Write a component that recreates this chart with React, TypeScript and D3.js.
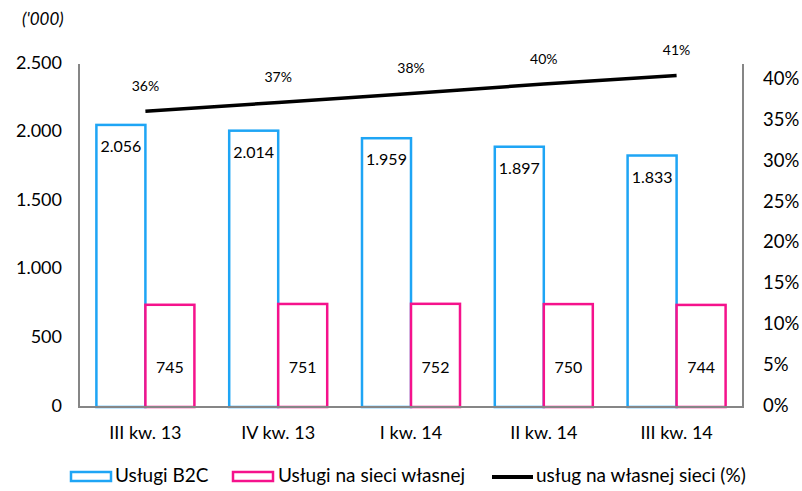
import React from "react";
import * as d3 from "d3";

// Quarterly subscriber figures ('000) and share of on-net services
const categories = ["III kw. 13", "IV kw. 13", "I kw. 14", "II kw. 14", "III kw. 14"];
const b2cValues = [2056, 2014, 1959, 1897, 1833];
const ownNetValues = [745, 751, 752, 750, 744];
const ownNetShare = [0.362, 0.373, 0.384, 0.3954, 0.406];
const leftTicks = [0, 500, 1000, 1500, 2000, 2500];
const rightTicks = [0, 0.05, 0.1, 0.15, 0.2, 0.25, 0.3, 0.35, 0.4];
const seriesNames = ["Usługi B2C", "Usługi na sieci własnej", "usług na własnej sieci (%)"];

const W = 802;
const H = 491;
const M = { left: 79, right: 743, top: 64, bottom: 407 };
const FONT = "Lato, 'Open Sans', sans-serif";
const BLUE = "#1ea5f5";
const PINK = "#f5128c";
const AXIS = "#868686";

const fmtThousands = (v: number) => d3.format(",")(v).replace(/,/g, ".");
const fmtPct = (v: number) => `${Math.round(v * 100)}%`;

export default function App() {
  const x = d3.scaleBand<string>().domain(categories).range([M.left, M.right]);
  const xs = d3
    .scaleBand<string>()
    .domain(["b2c", "own"])
    .range([0, x.bandwidth()])
    .paddingInner(0)
    .paddingOuter(0.355);
  const yL = d3.scaleLinear().domain([0, 2500]).range([M.bottom, M.top]);
  const yR = d3.scaleLinear().domain([0, 0.42]).range([M.bottom, M.top]);

  const line = d3
    .line<number>()
    .x((_, i) => (x(categories[i]) as number) + x.bandwidth() / 2)
    .y((d) => yR(d));

  const bw = xs.bandwidth();

  return (
    <svg width={W} height={H} style={{ display: "block", position: "absolute", left: 0, top: 0 }} fontFamily={FONT}>
      <rect width={W} height={H} fill="#fff" />
      <text x={22} y={25} fontSize={17} fontStyle="italic" fill="#000">
        ('000)
      </text>

      {/* bars */}
      {categories.map((c, i) => {
        const x0 = x(c) as number;
        const bx = x0 + (xs("b2c") as number);
        const px = x0 + (xs("own") as number);
        return (
          <g key={c}>
            <rect
              x={bx}
              y={yL(b2cValues[i])}
              width={bw}
              height={yL(0) - yL(b2cValues[i])}
              fill="#fff"
              stroke={BLUE}
              strokeWidth={2.5}
            />
            <rect
              x={px}
              y={yL(ownNetValues[i])}
              width={bw}
              height={yL(0) - yL(ownNetValues[i])}
              fill="#fff"
              stroke={PINK}
              strokeWidth={2.5}
            />
            <text
              x={bx + bw / 2}
              y={yL(b2cValues[i]) + 23}
              textAnchor="middle"
              dominantBaseline="middle"
              fontSize={16}
              fill="#000"
            >
              {fmtThousands(b2cValues[i])}
            </text>
            <text
              x={px + bw / 2}
              y={yL(0) - 38}
              textAnchor="middle"
              dominantBaseline="middle"
              fontSize={16}
              fill="#000"
            >
              {fmtThousands(ownNetValues[i])}
            </text>
          </g>
        );
      })}

      {/* axes */}
      <line x1={M.left} x2={M.left} y1={M.top} y2={M.bottom} stroke={AXIS} strokeWidth={2} />
      <line x1={M.right} x2={M.right} y1={M.top} y2={M.bottom} stroke={AXIS} strokeWidth={2} />
      <line x1={M.left - 1} x2={M.right + 1} y1={M.bottom} y2={M.bottom} stroke={AXIS} strokeWidth={2} />

      {leftTicks.map((t) => (
        <text
          key={t}
          x={62}
          y={yL(t)}
          textAnchor="end"
          dominantBaseline="middle"
          fontSize={18}
          fill="#000"
        >
          {fmtThousands(t)}
        </text>
      ))}
      {rightTicks.map((t) => (
        <text key={t} x={763} y={yR(t)} dominantBaseline="middle" fontSize={18.5} fill="#000">
          {fmtPct(t)}
        </text>
      ))}
      {categories.map((c) => (
        <text
          key={c}
          x={(x(c) as number) + x.bandwidth() / 2}
          y={434}
          textAnchor="middle"
          dominantBaseline="middle"
          fontSize={18}
          fill="#000"
        >
          {c}
        </text>
      ))}

      {/* share line */}
      <path d={line(ownNetShare) as string} fill="none" stroke="#000" strokeWidth={3.5} />
      {ownNetShare.map((v, i) => (
        <text
          key={i}
          x={(x(categories[i]) as number) + x.bandwidth() / 2}
          y={yR(v) - 24}
          textAnchor="middle"
          dominantBaseline="middle"
          fontSize={14}
          fill="#000"
        >
          {fmtPct(v)}
        </text>
      ))}

      {/* legend */}
      <g fontSize={19} fill="#000">
        <rect x={71} y={472} width={40} height={9} fill="#fff" stroke={BLUE} strokeWidth={2.5} />
        <text x={115} y={477} dominantBaseline="middle">{seriesNames[0]}</text>
        <rect x={233} y={472} width={40} height={9} fill="#fff" stroke={PINK} strokeWidth={2.5} />
        <text x={278} y={477} dominantBaseline="middle">{seriesNames[1]}</text>
        <line x1={492} x2={533} y1={477} y2={477} stroke="#000" strokeWidth={4} />
        <text x={536} y={477} dominantBaseline="middle">{seriesNames[2]}</text>
      </g>
    </svg>
  );
}
